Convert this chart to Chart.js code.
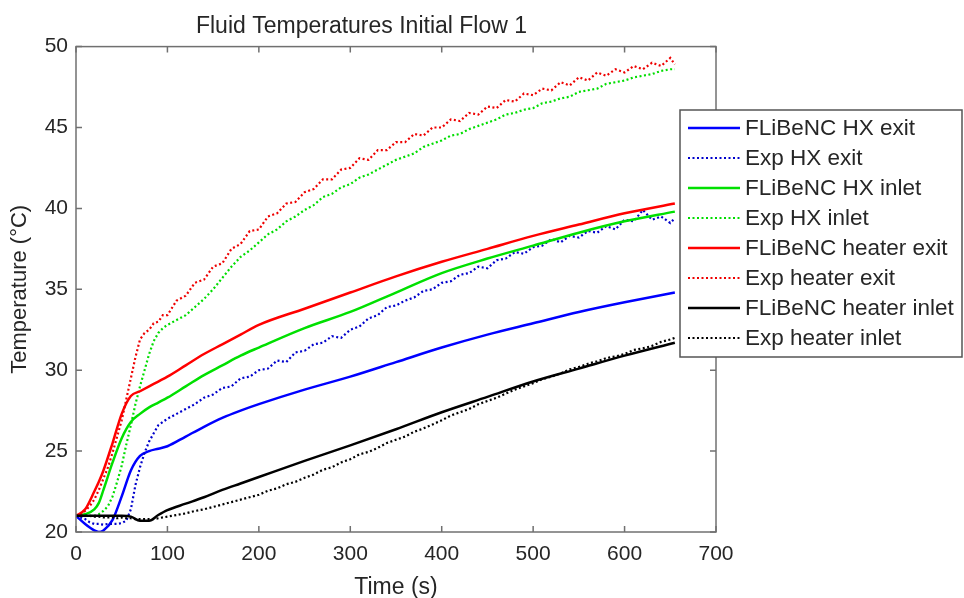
<!DOCTYPE html>
<html>
<head>
<meta charset="utf-8">
<script src="https://cdn.jsdelivr.net/npm/chart.js@4"></script>
<style>
  body { margin: 0; background: #fff; }
</style>
</head>
<body>
<canvas id="tempChart" width="964" height="598"></canvas>
<script>
// Model curves (FLiBeNC), time in s
const modelTime = [0, 10, 20, 25, 30, 40, 50, 60, 70, 80, 90, 100, 120, 140, 160, 180, 200, 250, 300, 350, 400, 450, 500, 550, 600, 655];
const hxExitModel = [21.0, 20.5, 20.1, 20.0, 20.1, 20.75, 22.2, 23.8, 24.7, 25.0, 25.15, 25.3, 25.9, 26.5, 27.05, 27.5, 27.9, 28.8, 29.6, 30.5, 31.4, 32.2, 32.9, 33.6, 34.2, 34.8];
const hxInletModel = [21.0, 21.1, 21.4, 21.8, 22.6, 24.3, 25.8, 26.8, 27.3, 27.7, 28.0, 28.3, 29.0, 29.7, 30.3, 30.9, 31.4, 32.6, 33.6, 34.8, 36.0, 36.9, 37.7, 38.5, 39.2, 39.8];
const heaterExitModel = [21.0, 21.4, 22.5, 23.1, 23.8, 25.5, 27.3, 28.4, 28.7, 29.0, 29.3, 29.6, 30.3, 31.0, 31.6, 32.2, 32.8, 33.8, 34.8, 35.8, 36.7, 37.5, 38.3, 39.0, 39.7, 40.3];
const heaterInletModel = [21.0, 21.0, 21.0, 21.0, 21.0, 21.0, 21.0, 20.95, 20.7, 20.7, 21.05, 21.35, 21.75, 22.15, 22.6, 23.0, 23.4, 24.4, 25.35, 26.35, 27.4, 28.35, 29.3, 30.1, 30.9, 31.7];

// Experimental data
const expTime = [0, 5, 10, 15, 20, 25, 30, 35, 40, 45, 50, 55, 60, 65, 70, 75, 80, 85, 90, 95, 100,
  110, 120, 130, 140, 150, 160, 170, 180, 190, 200, 210, 220, 230, 240, 250, 260, 270, 280, 290, 300,
  310, 320, 330, 340, 350, 360, 370, 380, 390, 400, 410, 420, 430, 440, 450, 460, 470, 480, 490, 500,
  510, 520, 530, 540, 550, 560, 570, 580, 590, 600, 610, 620, 630, 640, 650, 655];
const hxExitExp = [21.0, 20.9, 20.8, 20.6, 20.5, 20.5, 20.45, 20.5, 20.5, 20.5, 20.55, 20.7, 21.4, 22.9, 24.0, 24.9, 25.6, 26.1, 26.6, 26.8, 27.0,
  27.3, 27.6, 27.9, 28.3, 28.5, 28.9, 29.0, 29.5, 29.6, 30.0, 30.1, 30.6, 30.5, 31.1, 31.2, 31.6, 31.7, 32.1, 32.0, 32.5,
  32.7, 33.2, 33.4, 33.9, 34.0, 34.3, 34.5, 34.9, 35.0, 35.4, 35.5, 35.9, 36.0, 36.4, 36.3, 36.8, 36.9, 37.3, 37.2, 37.6,
  37.7, 38.1, 37.9, 38.3, 38.2, 38.6, 38.5, 38.9, 38.7, 39.3, 39.2, 39.9, 39.3, 39.5, 39.1, 39.4];
const hxInletExp = [21.0, 21.0, 21.0, 21.0, 21.0, 21.1, 21.3, 21.6, 22.2, 23.1, 24.1, 25.4, 26.6, 27.9, 29.0, 30.0, 31.0, 31.8, 32.3, 32.6, 32.8,
  33.1, 33.4, 33.9, 34.4, 35.0, 35.7, 36.4, 37.0, 37.4, 37.9, 38.4, 38.7, 39.2, 39.5, 39.9, 40.2, 40.7, 40.9, 41.3, 41.5,
  41.9, 42.1, 42.4, 42.7, 43.0, 43.2, 43.4, 43.8, 44.0, 44.2, 44.5, 44.6, 44.9, 45.1, 45.3, 45.5, 45.8, 45.9, 46.1, 46.2,
  46.5, 46.6, 46.8, 46.9, 47.2, 47.3, 47.4, 47.7, 47.8, 47.9, 48.1, 48.2, 48.3, 48.5, 48.6, 48.6];
const heaterExitExp = [21.0, 21.1, 21.3, 21.6, 22.0, 22.6, 23.3, 24.0, 24.9, 25.9, 26.9, 28.2, 29.5, 30.8, 31.9, 32.3, 32.5, 32.9, 33.0, 33.4, 33.4,
  34.3, 34.6, 35.4, 35.6, 36.4, 36.6, 37.5, 37.8, 38.6, 38.7, 39.5, 39.7, 40.3, 40.4, 41.0, 41.2, 41.8, 41.8, 42.4, 42.5,
  43.1, 43.0, 43.6, 43.6, 44.1, 44.1, 44.6, 44.5, 45.0, 45.0, 45.5, 45.4, 45.9, 45.8, 46.3, 46.2, 46.7, 46.6, 47.1, 47.0,
  47.4, 47.3, 47.8, 47.6, 48.1, 47.9, 48.4, 48.2, 48.6, 48.4, 48.8, 48.6, 49.0, 48.8, 49.3, 48.9];
const heaterInletExp = [21.0, 21.0, 21.0, 21.0, 20.95, 20.95, 20.9, 20.9, 20.9, 20.85, 20.9, 20.85, 20.85, 20.8, 20.8, 20.8, 20.8, 20.8, 20.85, 20.9, 20.95,
  21.05, 21.15, 21.3, 21.4, 21.55, 21.7, 21.85, 22.0, 22.15, 22.3, 22.55, 22.7, 22.95, 23.1, 23.35, 23.55, 23.85, 24.0, 24.3, 24.5,
  24.8, 24.95, 25.2, 25.5, 25.7, 25.9, 26.2, 26.4, 26.65, 26.9, 27.2, 27.4, 27.6, 27.9, 28.1, 28.3, 28.55, 28.8, 29.0, 29.2,
  29.45, 29.6, 29.8, 30.05, 30.2, 30.4, 30.55, 30.75, 30.85, 31.0, 31.25, 31.35, 31.5, 31.75, 31.9, 32.0];

const seriesLabels = ['FLiBeNC HX exit', 'Exp HX exit', 'FLiBeNC HX inlet', 'Exp HX inlet',
  'FLiBeNC heater exit', 'Exp heater exit', 'FLiBeNC heater inlet', 'Exp heater inlet'];
const seriesColors = ['#0000ff', '#0000cc', '#00e000', '#00dd00', '#ff0000', '#ee0000', '#000000', '#000000'];

const FONT = 'Liberation Sans, Arial, Helvetica, sans-serif';
const TEXT = '#262626';
const AXIS = '#707070';

function toPoints(times, values) {
  return times.map((t, i) => ({ x: t, y: values[i] }));
}

const seriesData = [
  toPoints(modelTime, hxExitModel), toPoints(expTime, hxExitExp),
  toPoints(modelTime, hxInletModel), toPoints(expTime, hxInletExp),
  toPoints(modelTime, heaterExitModel), toPoints(expTime, heaterExitExp),
  toPoints(modelTime, heaterInletModel), toPoints(expTime, heaterInletExp)
];

const datasets = seriesData.map((d, i) => {
  const dotted = i % 2 === 1;
  return {
    label: seriesLabels[i],
    data: d,
    borderColor: seriesColors[i],
    borderWidth: dotted ? 2.2 : 2.5,
    borderDash: dotted ? [2, 2.5] : [],
    pointRadius: 0,
    tension: dotted ? 0 : 0.4,
    cubicInterpolationMode: dotted ? 'default' : 'monotone',
    fill: false,
    order: 8 - i
  };
});

// box around axes with inward ticks (MATLAB style)
const axesBox = {
  id: 'axesBox',
  afterDraw(chart) {
    const ctx = chart.ctx;
    const a = chart.chartArea;
    const xs = chart.scales.x, ys = chart.scales.y;
    ctx.save();
    ctx.strokeStyle = AXIS;
    ctx.lineWidth = 1.5;
    ctx.strokeRect(a.left, a.top, a.right - a.left, a.bottom - a.top);
    ctx.beginPath();
    xs.ticks.forEach(t => {
      const px = xs.getPixelForValue(t.value);
      ctx.moveTo(px, a.bottom); ctx.lineTo(px, a.bottom - 6);
      ctx.moveTo(px, a.top); ctx.lineTo(px, a.top + 6);
    });
    ys.ticks.forEach(t => {
      const py = ys.getPixelForValue(t.value);
      ctx.moveTo(a.left, py); ctx.lineTo(a.left + 6, py);
      ctx.moveTo(a.right, py); ctx.lineTo(a.right - 6, py);
    });
    ctx.stroke();
    ctx.restore();
  }
};

// legend box overlapping the right side of the axes
const boxLegend = {
  id: 'boxLegend',
  afterDraw(chart) {
    const ctx = chart.ctx;
    const x0 = 680, y0 = 110, w = 282, h = 247;
    ctx.save();
    ctx.fillStyle = '#fff';
    ctx.fillRect(x0, y0, w, h);
    ctx.strokeStyle = '#555';
    ctx.lineWidth = 1.5;
    ctx.strokeRect(x0, y0, w, h);
    ctx.font = '22.5px ' + FONT;
    ctx.textBaseline = 'middle';
    ctx.fillStyle = TEXT;
    chart.data.datasets.forEach((ds, i) => {
      const y = y0 + 18 + i * 30;
      ctx.beginPath();
      ctx.setLineDash(ds.borderDash);
      ctx.strokeStyle = ds.borderColor;
      ctx.lineWidth = ds.borderWidth;
      ctx.moveTo(688, y);
      ctx.lineTo(740, y);
      ctx.stroke();
      ctx.setLineDash([]);
      ctx.fillText(ds.label, 745, y + 1);
    });
    ctx.restore();
  }
};

new Chart(document.getElementById('tempChart').getContext('2d'), {
  type: 'line',
  data: { datasets: datasets },
  options: {
    responsive: false,
    animation: false,
    layout: { padding: { left: 7, right: 248, top: 0, bottom: 0 } },
    plugins: {
      legend: { display: false },
      tooltip: { enabled: false },
      title: {
        display: true,
        text: 'Fluid Temperatures Initial Flow 1',
        color: TEXT,
        font: { family: FONT, size: 23, weight: 'normal' },
        padding: { top: 13, bottom: 6 }
      }
    },
    scales: {
      x: {
        type: 'linear',
        min: 0,
        max: 700,
        ticks: { stepSize: 100, color: TEXT, font: { family: FONT, size: 21 }, padding: 10, maxRotation: 0 },
        grid: { display: false, drawTicks: false },
        border: { display: false },
        title: { display: true, text: 'Time (s)', color: TEXT, font: { family: FONT, size: 23, lineHeight: 0.9 }, padding: 0 },
        afterFit(s) { s.height = 66; }
      },
      y: {
        min: 20,
        max: 50,
        ticks: { stepSize: 5, color: TEXT, font: { family: FONT, size: 21 }, padding: 8 },
        grid: { display: false, drawTicks: false },
        border: { display: false },
        title: { display: true, text: 'Temperature (°C)', color: TEXT, font: { family: FONT, size: 22 }, padding: 0 },
        afterFit(s) { s.width = 69; }
      }
    }
  },
  plugins: [axesBox, boxLegend]
});
</script>
</body>
</html>
